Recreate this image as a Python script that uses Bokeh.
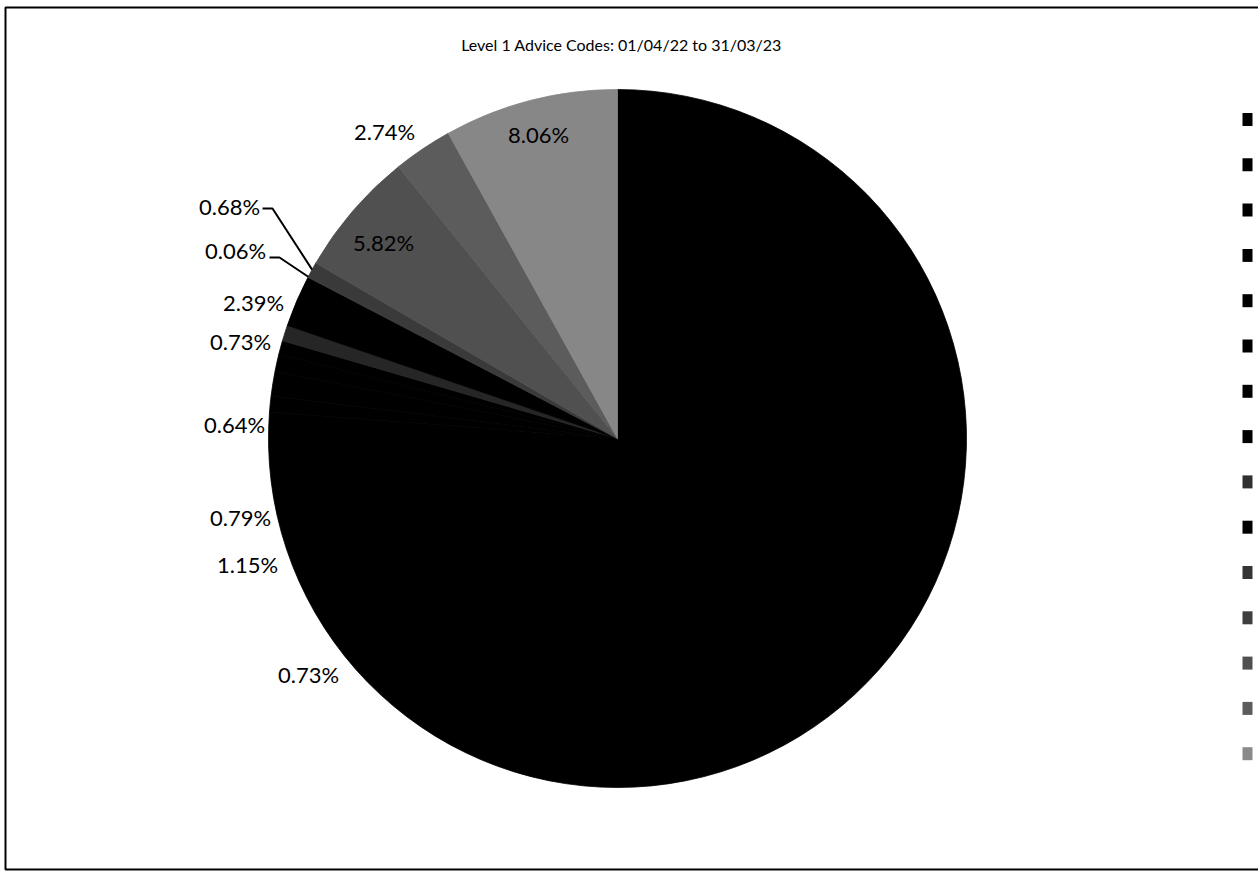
import math
from bokeh.plotting import figure
from bokeh.models import Range1d, ColumnDataSource, BoxAnnotation
from bokeh.embed import file_html
from bokeh.resources import INLINE
from bokeh.core.properties import value

# ---------------- data ----------------
title_text = "Level 1 Advice Codes: 01/04/22 to 31/03/23"
# slices in clockwise order starting at 12 o'clock
slice_values = [76.21, 0.73, 1.15, 0.79, 0.64, 0.73, 2.39, 0.06, 0.68, 5.82, 2.74, 8.06]
slice_labels = ["", "0.73%", "1.15%", "0.79%", "0.64%", "0.73%", "2.39%", "0.06%", "0.68%", "5.82%", "2.74%", "8.06%"]
slice_colors = ["#000000", "#000000", "#000000", "#000000", "#000000", "#262626", "#000000",
                "#3a3a3a", "#3a3a3a", "#505050", "#5c5c5c", "#878787"]
legend_colors = ["#000000", "#000000", "#000000", "#000000", "#000000", "#000000", "#000000",
                 "#000000", "#303030", "#000000", "#353535", "#3e3e3e", "#505050", "#5c5c5c", "#8a8a8a"]

# ---------------- layout (image pixels, y down) ----------------
W, H = 1258, 871
CX, CY, R = 617, 438, 349
FONT = "Lato"
LABEL_POS = [None, (308, 674), (247, 564), (240, 517), (234, 424), (240, 341), (253, 302),
             (235, 250), (229, 206), (383, 242), (384, 131), (538, 134)]
LEADERS = {7: (267, 257), 8: (260, 208)}
LEG_X, LEG_Y0, LEG_DY, LEG_W, LEG_H = 1247, 119, 45.3, 10, 13


def Y(y):
    return H - y


p = figure(width=W, height=H, output_backend="svg", toolbar_location=None,
           x_range=Range1d(0, W), y_range=Range1d(0, H), min_border=0,
           background_fill_color="white", border_fill_color="white")
p.axis.visible = False
p.grid.visible = False
p.outline_line_color = None

total = sum(slice_values)
starts, ends = [], []
cum = 0.0
for v in slice_values:
    c0 = cum / total
    cum += v
    c1 = cum / total
    starts.append(math.pi / 2 - 2 * math.pi * c1)
    ends.append(math.pi / 2 - 2 * math.pi * c0)

src = ColumnDataSource(dict(x=[CX] * len(slice_values), y=[Y(CY)] * len(slice_values),
                            start=starts, end=ends, color=slice_colors))
p.wedge(x="x", y="y", radius=R, start_angle="start", end_angle="end",
        fill_color="color", line_color="color", line_width=0.8, source=src)

# labels
lx, ly, lt = [], [], []
for i, lab in enumerate(slice_labels):
    if not lab:
        continue
    x, y = LABEL_POS[i]
    lx.append(x)
    ly.append(Y(y))
    lt.append(lab)
p.text(x=lx, y=ly, text=lt, text_font=value(FONT), text_font_size="22px",
       text_align="center", text_baseline="middle", text_color="black")

# leader lines
xs, ys = [], []
for i, (ex, ey) in LEADERS.items():
    mid = (starts[i] + ends[i]) / 2
    tx = CX + R * math.cos(mid)
    ty = Y(CY) + R * math.sin(mid)
    xs.append([ex + 2, ex + 12, tx])
    ys.append([Y(ey), Y(ey), ty])
p.multi_line(xs=xs, ys=ys, line_color="black", line_width=2)

# title
p.text(x=[621], y=[Y(44)], text=[title_text], text_font=value(FONT), text_font_size="16px",
       text_align="center", text_baseline="middle", text_color="black")

# border
p.add_layout(BoxAnnotation(left=5, right=W + 20, bottom=Y(869), top=Y(7), fill_alpha=0,
                           line_color="black", line_alpha=1, line_width=2))

# legend swatches (entry texts are cut off at the right edge in the original)
n = len(legend_colors)
p.rect(x=[LEG_X] * n, y=[Y(LEG_Y0 + LEG_DY * i) for i in range(n)], width=LEG_W, height=LEG_H,
       fill_color=legend_colors, line_color=None)

open("out.html", "w").write(file_html(p, INLINE))
